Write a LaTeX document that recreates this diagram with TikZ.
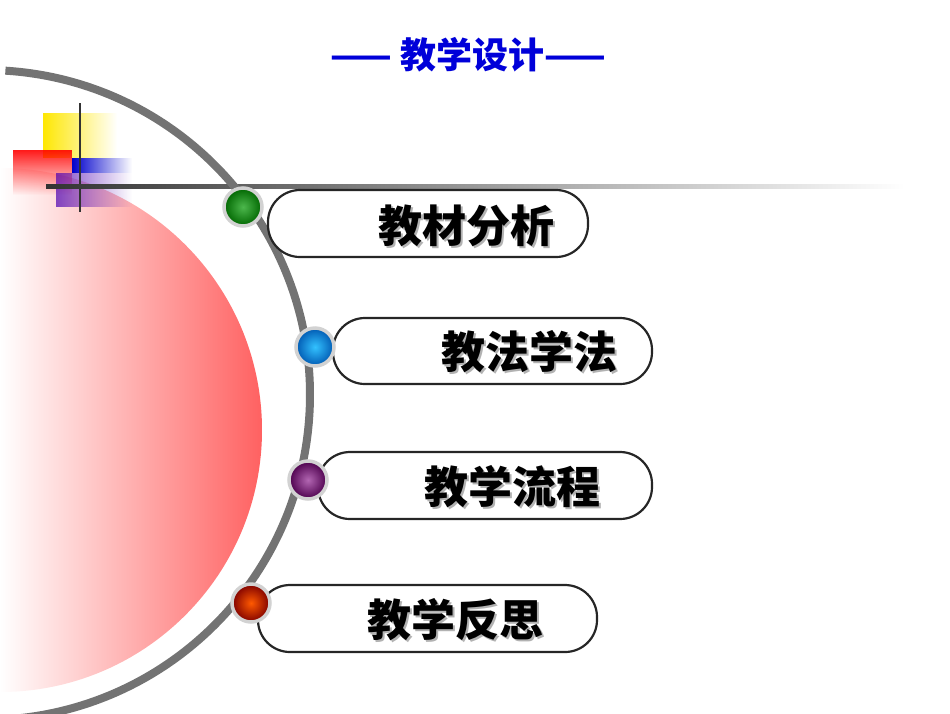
\documentclass[tikz,border=0pt]{standalone}
\usepackage{fontspec}
\newfontfamily\cjk{Noto Sans CJK SC}
\usetikzlibrary{fadings,shadows}
\begin{document}
\begin{tikzpicture}[x=1pt,y=-1pt,
  pill/.style={draw=black!85,line width=2.2pt,rounded corners=32pt,fill=white},
  ptext/.style={font=\cjk\fontsize{44}{48}\selectfont\bfseries,text=black},
  ball/.style={circle,minimum size=38pt,inner sep=0pt,draw=gray!35,line width=3.5pt}]
\useasboundingbox (0,0) rectangle (950,713);
% red circle
\begin{scope}
\clip (0,430) circle (262);
\shade[left color=white,right color=red!62] (0,160) rectangle (262,700);
\end{scope}
% squares
\fill[yellow!90!orange,path fading=east] (43,113) rectangle (117,158);
\fill[red,path fading=south,opacity=.9] (13,150) rectangle (72,195);
\fill[blue!80!black,path fading=east] (72,158) rectangle (132,173);
\fill[violet!60!blue,opacity=.7,path fading=east] (56,173) rectangle (132,207);
\draw[black!80,line width=2pt] (80,103) -- (80,212);
% horizontal line
\shade[left color=black!80,right color=white] (46,184.5) rectangle (905,188);
% arc
\draw[black!55,line width=8pt] (-15,395) ++(-86.4:325) arc[start angle=-86.4,end angle=87,radius=325];
% title
\node[font=\cjk\fontsize{36}{40}\selectfont\bfseries,text=blue!85!black] (title) at (468,55) {—— 教学设计——};
% pills
\draw[pill] (268,190) rectangle (588,257);
\node[ptext,text=gray!60] at (468,228) {教材分析};
\node[ptext] (t1) at (466,226) {教材分析};
\draw[pill] (333,318) rectangle (652,384);
\node[ptext,text=gray!60] at (531,354) {教法学法};
\node[ptext] (t2) at (529,352) {教法学法};
\draw[pill] (318,452) rectangle (652,519);
\node[ptext,text=gray!60] at (514,489) {教学流程};
\node[ptext] (t3) at (512,487) {教学流程};
\draw[pill] (258,585) rectangle (597,652);
\node[ptext,text=gray!60] at (457,622) {教学反思};
\node[ptext] (t4) at (455,620) {教学反思};
% balls
\node[ball,inner color=green!60!black!70,outer color=green!40!black] (b1) at (243,207) {};
\node[ball,inner color=cyan!70!blue!80,outer color=cyan!50!blue!70!black] (b2) at (315,347) {};
\node[ball,inner color=violet!60,outer color=violet!60!black] (b3) at (308,480) {};
\node[ball,inner color=orange!70!red,outer color=red!50!black] (b4) at (251,603) {};
\end{tikzpicture}
\end{document}
